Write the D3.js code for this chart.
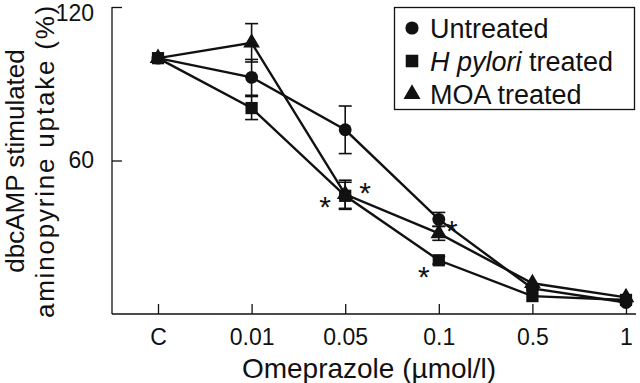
<!DOCTYPE html>
<html>
  <head>
    <style>
      body,
      html {
        margin: 0;
        background: #fff;
      }
      text {
        font-family: 'Liberation Sans', Arial, Helvetica, sans-serif;
        fill: #111;
      }
    </style>
  </head>
  <body>
    <svg id="svg" width="640" height="383"></svg>

    <script src="https://cdn.jsdelivr.net/npm/d3@7"></script>
    <script>
      const categories = ['C', '0.01', '0.05', '0.1', '0.5', '1'];
      const yTicks = [60, 120];

      const untreated = [100, 92.5, 72, 37, 10, 4.5];
      const untreatedErr = [0, 7, 9.3, 2.7, 0, 0];
      const hpylori = [100, 80.5, 46.2, 21, 7, 5.5];
      const hpyloriErr = [0, 4.5, 5.3, 1.5, 0, 0];
      const moa = [100, 106, 46.8, 31.5, 12, 6.5];
      const moaErr = [0, 7.5, 5.5, 2.7, 0, 0];

      // significance marks: category, level, which side of the point
      const asterisks = [
        { cat: '0.05', value: 44.6, side: -1 },
        { cat: '0.05', value: 50.1, side: 1 },
        { cat: '0.1', value: 35.2, side: 0.65 },
        { cat: '0.1', value: 17.2, side: -0.75 },
      ];

      const series = [
        { name: 'Untreated', values: untreated, err: untreatedErr, symbol: d3.symbolCircle, size: 130 },
        { name: 'H pylori treated', values: hpylori, err: hpyloriErr, symbol: d3.symbolSquare, size: 150 },
        { name: 'MOA treated', values: moa, err: moaErr, symbol: d3.symbolTriangle, size: 120 },
      ];

      const svg = d3.select('#svg');
      const ink = '#111';

      const x = d3.scalePoint().domain(categories).range([158, 626]);
      const y = d3.scaleLinear().domain([0, 120]).range([314, 7]);

      // axes
      const xAxis = svg
        .append('g')
        .attr('transform', 'translate(0,314)')
        .call(d3.axisBottom(x).tickSize(-10).tickPadding(15));
      xAxis.select('.domain').attr('d', 'M112,0H636');
      const yAxis = svg
        .append('g')
        .attr('transform', 'translate(112,0)')
        .call(d3.axisLeft(y).tickValues(yTicks).tickSize(-10).tickPadding(18));
      yAxis.select('.domain').attr('d', 'M0,7V314');
      // top label sits against the page edge, nudge it down a little
      yAxis
        .selectAll('.tick text')
        .filter((d) => d === 120)
        .attr('dy', '0.6em');

      svg.selectAll('.domain, .tick line').attr('stroke', ink).attr('stroke-width', 1.3);
      svg
        .selectAll('.tick text')
        .attr('font-size', 23)
        .attr('font-family', "'Liberation Sans', Arial, sans-serif")
        .attr('fill', ink);

      // axis titles
      svg
        .append('text')
        .attr('x', 369)
        .attr('y', 378)
        .attr('text-anchor', 'middle')
        .attr('font-size', 28)
        .text('Omeprazole (\u00b5mol/l)');
      const yt = svg
        .append('text')
        .attr('transform', 'translate(24,161) rotate(-90)')
        .attr('text-anchor', 'middle')
        .attr('font-size', 26);
      yt.append('tspan').attr('x', 0).attr('y', 0).text('dbcAMP stimulated');
      yt.append('tspan')
        .attr('x', 0)
        .attr('y', 30)
        .attr('letter-spacing', 1.8)
        .text('aminopyrine uptake (%)');

      const line = d3
        .line()
        .x((d, i) => x(categories[i]))
        .y((d) => y(d));

      const graph = svg.append('g');

      series.forEach((s) => {
        graph
          .append('path')
          .attr('d', line(s.values))
          .attr('fill', 'none')
          .attr('stroke', ink)
          .attr('stroke-width', 2.4);
      });

      // error bars
      series.forEach((s) => {
        const eb = graph
          .append('g')
          .selectAll('g')
          .data(s.values.map((v, i) => ({ v, e: s.err[i], c: categories[i] })).filter((d) => d.e > 0))
          .join('g')
          .attr('stroke', ink)
          .attr('stroke-width', 1.6);
        eb.append('line')
          .attr('x1', (d) => x(d.c))
          .attr('x2', (d) => x(d.c))
          .attr('y1', (d) => y(d.v - d.e))
          .attr('y2', (d) => y(d.v + d.e));
        [1, -1].forEach((sg) => {
          eb.append('line')
            .attr('x1', (d) => x(d.c) - 6.5)
            .attr('x2', (d) => x(d.c) + 6.5)
            .attr('y1', (d) => y(d.v + sg * d.e))
            .attr('y2', (d) => y(d.v + sg * d.e));
        });
      });

      // markers
      series.forEach((s) => {
        graph
          .append('g')
          .selectAll('path')
          .data(s.values)
          .join('path')
          .attr('transform', (d, i) => `translate(${x(categories[i])},${y(d)})`)
          .attr('d', d3.symbol(s.symbol, s.size))
          .attr('fill', ink);
      });

      // asterisks
      svg
        .append('g')
        .selectAll('text')
        .data(asterisks)
        .join('text')
        .attr('x', (d) => x(d.cat) + d.side * 20)
        .attr('y', (d) => y(d.value) + 17)
        .attr('text-anchor', 'middle')
        .attr('font-size', 30)
        .text('*');

      // legend
      const legend = svg.append('g');
      legend
        .append('rect')
        .attr('x', 394.5)
        .attr('y', 7.5)
        .attr('width', 240)
        .attr('height', 102)
        .attr('fill', '#fff')
        .attr('stroke', ink)
        .attr('stroke-width', 1.3);
      const items = legend
        .selectAll('g.item')
        .data(series)
        .join('g')
        .attr('class', 'item')
        .attr('transform', (d, i) => `translate(412,${28 + i * 33})`);
      items
        .append('path')
        .attr('d', (d) => d3.symbol(d.symbol, d.size * 1.05)())
        .attr('fill', ink);
      const lt = items
        .append('text')
        .attr('x', 18)
        .attr('y', 9.5)
        .attr('font-size', 27);
      lt.each(function (d) {
        const t = d3.select(this);
        if (d.name.startsWith('H pylori')) {
          t.append('tspan').attr('font-style', 'italic').text('H pylori');
          t.append('tspan').text(' treated');
        } else {
          t.text(d.name);
        }
      });
    </script>
  </body>
</html>
